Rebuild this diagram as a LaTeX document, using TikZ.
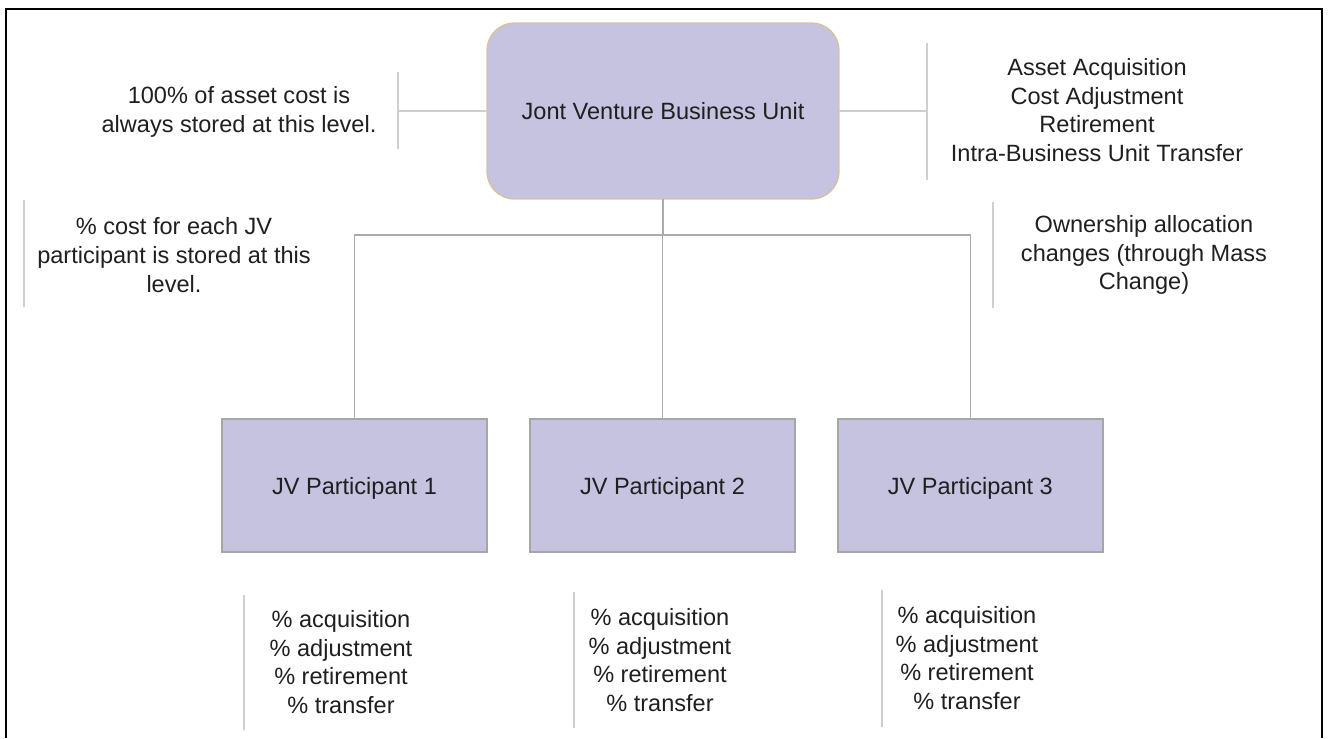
\documentclass[tikz,border=0pt]{standalone}
\usepackage{fontspec}
\setmainfont{Liberation Sans}
\usetikzlibrary{positioning, calc}
\definecolor{unitfill}{HTML}{C6C3E0}
\definecolor{unitedge}{HTML}{D3C49E}
\definecolor{boxedge}{HTML}{A6A6A6}
\definecolor{linkgray}{HTML}{ABABAB}
\definecolor{notegray}{HTML}{CFCFCF}
\definecolor{txt}{HTML}{1F1F1F}

\begin{document}
\begin{tikzpicture}[
  x=0.02cm, y=-0.02cm,
  node distance=0.86cm,
  base/.style={font=\fontsize{13.4}{16.3}\selectfont, text=txt, align=center},
  unit/.style={base, rectangle, rounded corners=0.55cm, draw=unitedge, fill=unitfill,
    line width=0.8pt, minimum width=7.04cm, minimum height=3.52cm, outer sep=0pt},
  part/.style={base, rectangle, draw=boxedge, fill=unitfill, line width=0.8pt, text depth=0pt,
    minimum width=5.3cm, minimum height=2.66cm, outer sep=0pt},
  note/.style={base, inner sep=0pt},
  link/.style={draw=linkgray, line width=0.8pt},
  tick/.style={draw=notegray, line width=0.6pt}
]
  \useasboundingbox (0,0) rectangle (1328,738);

  % Frame (open at the bottom)
  \draw[line width=1.4pt] (6,738) -- (6,9) -- (1322,9) -- (1322,738);

  % Nodes
  \node[unit] (JV) at (663,111) {Jont Venture Business Unit};
  \node[part] (P1) at (354.5,485.5) {JV Participant 1};
  \node[part, right=of P1] (P2) {JV Participant 2};
  \node[part, right=of P2] (P3) {JV Participant 3};

  % Notes
  \node[note] (full) at (239,112) {100\% of asset cost is\\always stored at this level.};
  \node[note] (ops) at (1097,110) {Asset Acquisition\\Cost Adjustment\\Retirement\\Intra-Business Unit Transfer};
  \node[note] (share) at (174,255) {\% cost for each JV\\participant is stored at this\\level.};
  \node[note] (owner) at (1144,255) {Ownership allocation\\changes (through Mass\\Change)};
  \node[note] (N1) at (341,662) {\% acquisition\\\% adjustment\\\% retirement\\\% transfer};
  \node[note] (N2) at (660,660) {\% acquisition\\\% adjustment\\\% retirement\\\% transfer};
  \node[note] (N3) at (967,658) {\% acquisition\\\% adjustment\\\% retirement\\\% transfer};

  % Bracket ends
  \coordinate (fullT) at (398,72);   \coordinate (fullB) at (398,149);
  \coordinate (opsT) at (927,43);    \coordinate (opsB) at (927,180);
  \coordinate (shareT) at (24,200);  \coordinate (shareB) at (24,307);
  \coordinate (ownerT) at (993,202); \coordinate (ownerB) at (993,308);
  \coordinate (N1T) at (244,595);    \coordinate (N1B) at (244,730);
  \coordinate (N2T) at (574,592);    \coordinate (N2B) at (574,728);
  \coordinate (N3T) at (882,590);    \coordinate (N3B) at (882,727);
  \coordinate (bus) at (663,235);

  % Brackets
  \draw[tick] (fullT) -- (fullB);
  \draw[tick] (JV.west) -- (JV.west -| fullT);
  \draw[tick] (opsT) -- (opsB);
  \draw[tick] (JV.east) -- (JV.east -| opsT);
  \draw[tick] (shareT) -- (shareB);
  \draw[tick] (ownerT) -- (ownerB);
  \draw[tick] (N1T) -- (N1B);
  \draw[tick] (N2T) -- (N2B);
  \draw[tick] (N3T) -- (N3B);

  % Tree links
  \draw[link] (JV.south) -- (JV.south |- bus);
  \draw[link] (P1.north) |- (P3.north |- bus) -- (P3.north);
  \draw[link] (P2.north) -- (P2.north |- bus);
\end{tikzpicture}
\end{document}
